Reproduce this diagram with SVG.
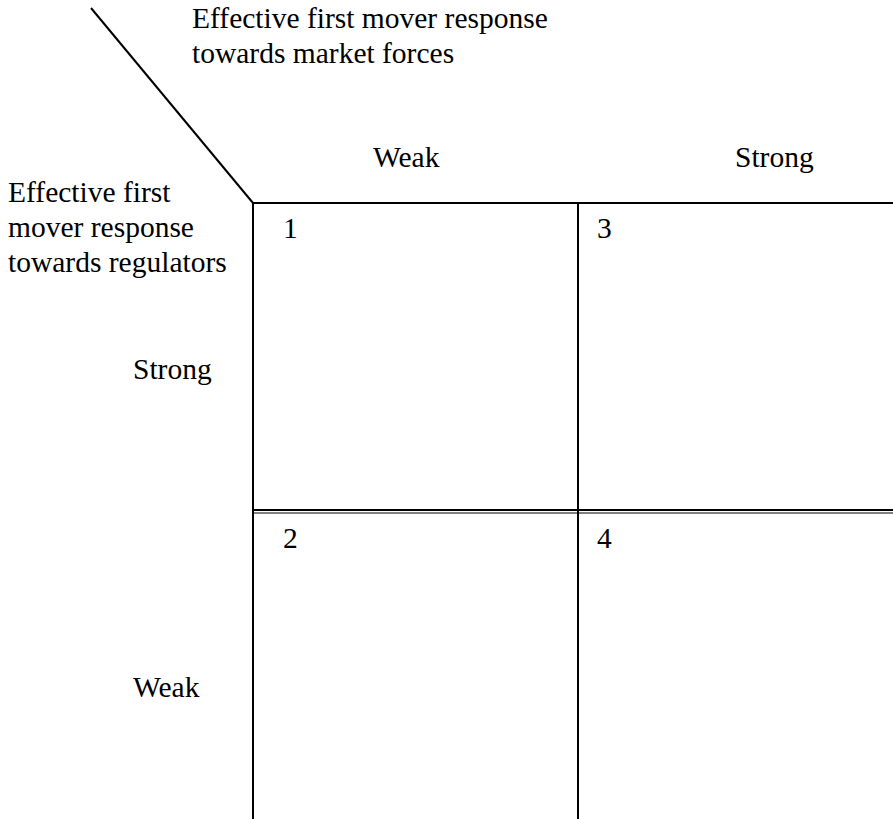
<svg xmlns="http://www.w3.org/2000/svg" width="893" height="819" viewBox="0 0 893 819">
<style>
text { font-family: "Liberation Serif", "Times New Roman", serif; font-size: 29.5px; fill: #000; }
.ln { stroke: #000; stroke-width: 2; fill: none; }
</style>
<rect width="893" height="819" fill="#fff"/>
<g id="connectors">
<line class="ln" x1="91" y1="8" x2="253" y2="203" stroke-width="1.6"/>
<line class="ln" x1="253" y1="203" x2="893" y2="203"/>
<line class="ln" x1="253" y1="203" x2="253" y2="819"/>
<line class="ln" x1="578" y1="203" x2="578" y2="819"/>
<line class="ln" x1="253" y1="510" x2="893" y2="510"/>
<line x1="253" y1="513" x2="893" y2="513" stroke="#000" stroke-width="1"/>
</g>
<g id="header-top">
<text x="192" y="28">Effective first mover response</text>
<text x="192" y="63">towards market forces</text>
</g>
<g id="col-weak"><text x="373" y="167">Weak</text></g>
<g id="col-strong"><text x="735" y="167">Strong</text></g>
<g id="header-left">
<text x="8" y="202">Effective first</text>
<text x="8" y="237">mover response</text>
<text x="8" y="272">towards regulators</text>
</g>
<g id="row-strong"><text x="133" y="379">Strong</text></g>
<g id="row-weak"><text x="133" y="697">Weak</text></g>
<g id="cell1"><text x="283" y="238">1</text></g>
<g id="cell3"><text x="597" y="238">3</text></g>
<g id="cell2"><text x="283" y="548">2</text></g>
<g id="cell4"><text x="597" y="548">4</text></g>
</svg>
